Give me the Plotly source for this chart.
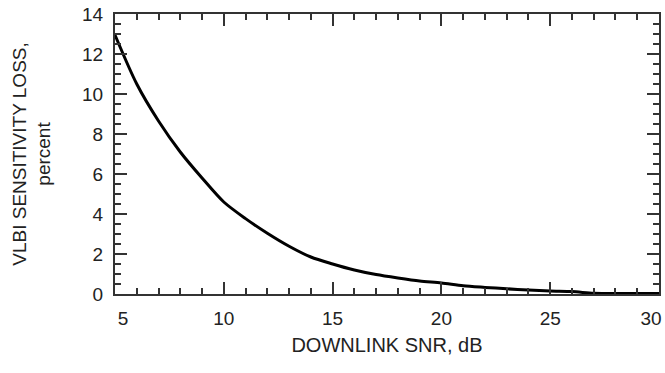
import plotly.graph_objects as go

snr_db = [5, 6, 7, 8, 9, 10, 11, 12, 13, 14, 15, 16, 17, 18, 19, 20, 21, 22, 23, 24, 25, 26, 27, 28, 29, 30]
loss_pct = [12.95, 10.5, 8.65, 7.1, 5.8, 4.6, 3.77, 3.04, 2.39, 1.85, 1.5, 1.2, 0.97, 0.8, 0.65, 0.55, 0.41,
            0.33, 0.26, 0.2, 0.15, 0.12, 0.04, 0.02, 0.02, 0.02]

x_tickvals = [5, 10, 15, 20, 25, 30]
x_ticktext = ["\u00a0\u00a0\u00a05", "10", "15", "20", "25", "30\u00a0\u00a0\u00a0"]
y_tickvals = [0, 2, 4, 6, 8, 10, 12, 14]

FONT = "Liberation Sans, Arial, sans-serif"
AXC = "#333333"

fig = go.Figure()
fig.add_trace(go.Scatter(x=snr_db, y=loss_pct, mode="lines",
                         line=dict(color="black", width=3, shape="spline", smoothing=0.8),
                         showlegend=False, hoverinfo="skip"))

fig.update_layout(
    width=665, height=373,
    margin=dict(l=115, r=4, t=9, b=79),
    paper_bgcolor="white", plot_bgcolor="white",
    font=dict(family=FONT, color="#222222", size=20),
)
fig.update_xaxes(
    range=[5, 30], tickmode="array", tickvals=x_tickvals, ticktext=x_ticktext,
    ticks="inside", ticklen=12, tickwidth=1.5, tickcolor=AXC,
    minor=dict(dtick=1, ticks="inside", ticklen=6, tickwidth=1.5, tickcolor=AXC, showgrid=False),
    showline=True, linewidth=2, linecolor=AXC, mirror="ticks",
    showgrid=False, zeroline=False, tickfont=dict(size=19),
    ticklabelstandoff=6, ticklabeloverflow="allow",
    title=dict(text="DOWNLINK SNR, dB", font=dict(size=20), standoff=10),
    automargin=False,
)
fig.update_yaxes(
    range=[0, 14], tickmode="array", tickvals=y_tickvals,
    ticks="inside", ticklen=12, tickwidth=1.5, tickcolor=AXC,
    minor=dict(dtick=0.5, ticks="inside", ticklen=6, tickwidth=1.5, tickcolor=AXC, showgrid=False),
    showline=True, linewidth=2, linecolor=AXC, mirror="ticks",
    showgrid=False, zeroline=False, tickfont=dict(size=19),
    ticklabelstandoff=6, ticklabeloverflow="allow",
    title=dict(text="VLBI SENSITIVITY LOSS,<br>percent", font=dict(size=19), standoff=26),
    automargin=True,
)

fig.write_html("out.html", config={"displayModeBar": False},
               post_script="document.body.style.margin='0';document.body.style.overflow='hidden';")
